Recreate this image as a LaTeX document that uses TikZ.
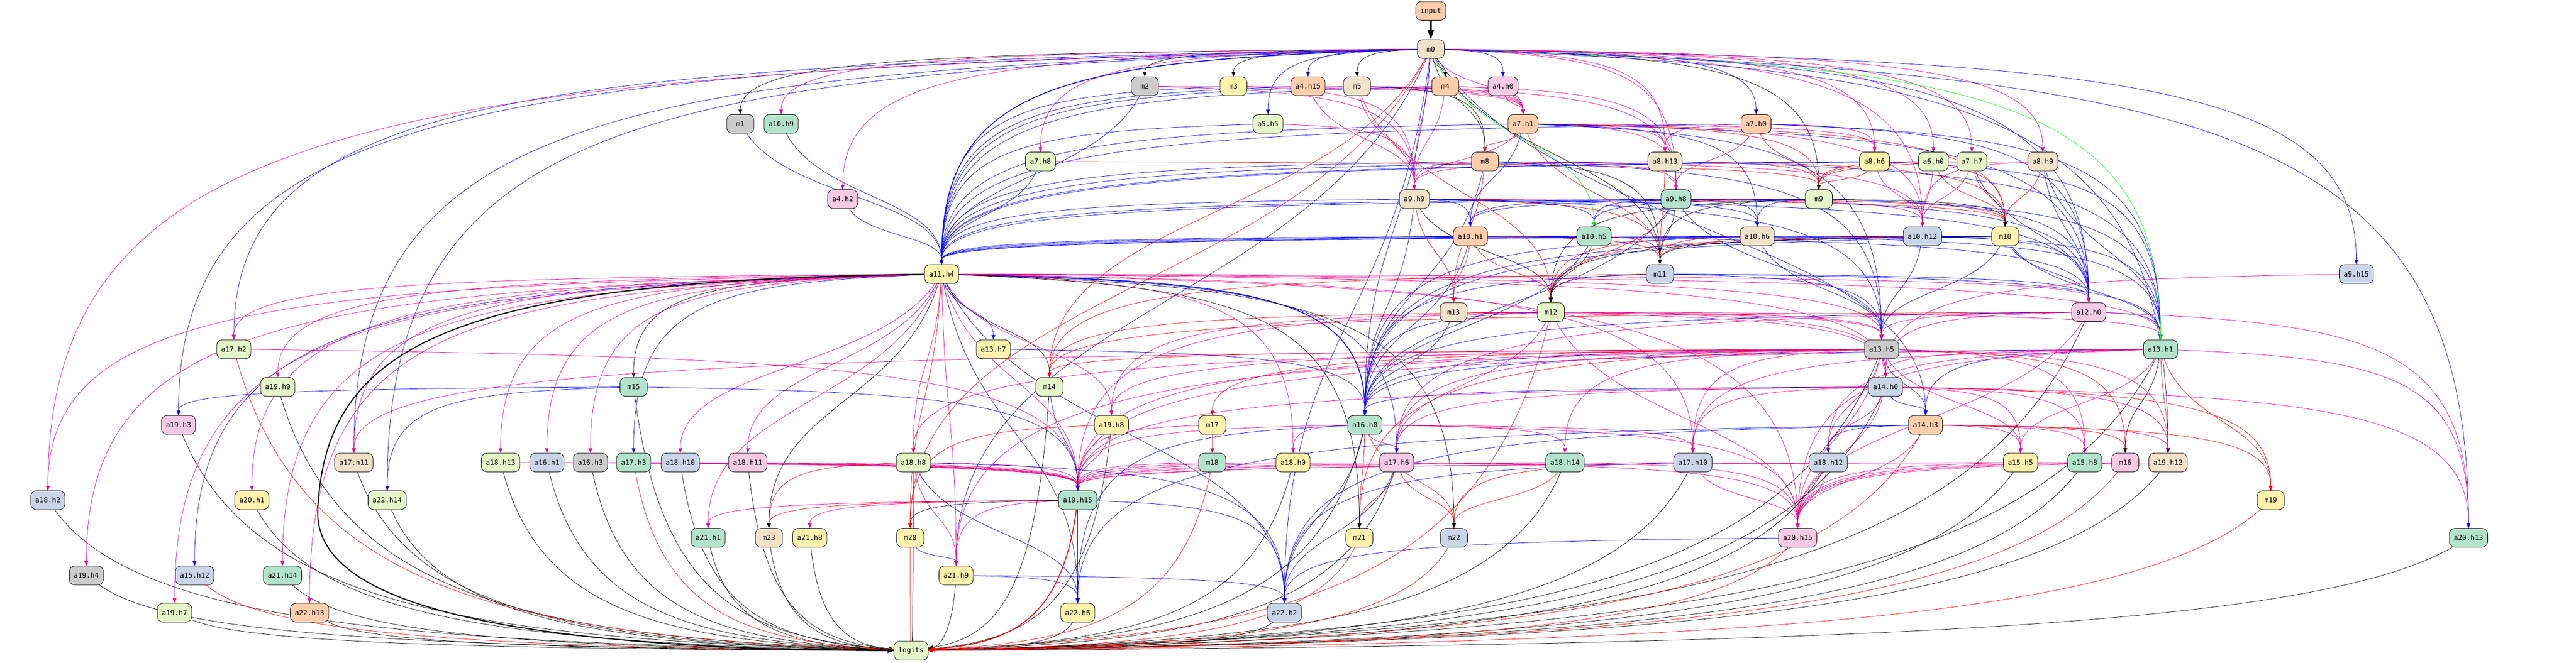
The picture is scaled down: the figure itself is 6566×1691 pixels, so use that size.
\documentclass[tikz,border=0pt]{standalone}
\usepackage{fontspec}
\newfontfamily\monofnt{DejaVu Sans Mono}
\usetikzlibrary{arrows.meta,calc}
\pgfdeclarelayer{bg}
\pgfsetlayers{bg,main}

\definecolor{cmint}{HTML}{B3E2CD}
\definecolor{cpeach}{HTML}{FDCDAC}
\definecolor{cblue}{HTML}{CBD5E8}
\definecolor{cpink}{HTML}{F4CAE4}
\definecolor{cgreen}{HTML}{E6F5C9}
\definecolor{cyell}{HTML}{FFF2AE}
\definecolor{cbeige}{HTML}{F1E2CC}
\definecolor{cgray}{HTML}{CCCCCC}

\tikzset{
  nd/.style={draw=black, line width=0.6pt, rounded corners=0.28cm,
    minimum width=1.38cm, minimum height=0.96cm, inner xsep=0.23cm, inner ysep=0pt,
    font=\monofnt\fontsize{10.1}{12}\selectfont},
  lk/.style={line width=0.55pt, -{Triangle[length=6.8pt,width=5.4pt]}},
  eblue/.style={lk, blue},
  emag/.style={lk, magenta},
  ered/.style={lk, red},
  eblk/.style={lk, black},
  egrn/.style={lk, green},
  fat/.style={line width=1.6pt, -{Triangle[length=9pt,width=7pt]}},
}

% one connector: wide ones run out sideways first, steep ones leave downwards
\newcommand\lnk[3]{\draw[#1] let \p1=(#2), \p2=(#3), \n1={\x2-\x1}, \n2={max(\y1-\y2,20pt)},
  \n3={ifthenelse(abs(\n1)>1.5*\n2, 0.75*\n1, 0.25*\n1)},
  \n4={ifthenelse(abs(\n1)>1.5*\n2, 0.05*\n2, 0.5*\n2)},
  \n5={ifthenelse(abs(\n1)>1.5*\n2, 0.85*\n2, 0.5*\n2)} in
  (#2) .. controls +(\n3,-\n4) and +(0pt,\n5) .. (#3);}
% connector into logits, comes in from the side along the bottom
\newcommand\lnkh[3]{\draw[#1] let \p1=(#2), \p2=(#3), \n1={\x2-\x1}, \n2={max(\y1-\y2,20pt)} in
  (#2) .. controls +(0.1*\n1,-0.8*\n2) and +(-0.6*\n1,0.05*\n2) .. (#3);}
% all connectors of one colour into one node
\newcommand\into[3]{\foreach \s in {#3}{\lnk{#1}{\s}{#2}}}

\begin{document}
\begin{tikzpicture}[x=0.02cm, y=0.02cm]
\useasboundingbox (0,0) rectangle (6566,-1691);

% rank 0 - 1
\node[nd, fill=cpeach] (input) at (3647,-28) {input};
\node[nd, fill=cbeige] (m0) at (3647,-125) {m0};

% rank 2
\node[nd, fill=cgray]  (m2)   at (2918,-220) {m2};
\node[nd, fill=cyell]  (m3)   at (3144,-220) {m3};
\node[nd, fill=cpeach] (a4h15) at (3334,-220) {a4.h15};
\node[nd, fill=cbeige] (m5)   at (3459,-220) {m5};
\node[nd, fill=cpeach] (m4)   at (3684,-220) {m4};
\node[nd, fill=cpink]  (a4h0) at (3831,-220) {a4.h0};

% rank 3
\node[nd, fill=cgray]  (m1)    at (1887,-316) {m1};
\node[nd, fill=cmint]  (a10h9) at (1991,-316) {a10.h9};
\node[nd, fill=cgreen] (a5h5)  at (3232,-316) {a5.h5};
\node[nd, fill=cpeach] (a7h1)  at (3882,-316) {a7.h1};
\node[nd, fill=cpeach] (a7h0)  at (4476,-316) {a7.h0};

% rank 4
\node[nd, fill=cgreen] (a7h8)  at (2652,-412) {a7.h8};
\node[nd, fill=cpeach] (m8)    at (3785,-412) {m8};
\node[nd, fill=cbeige] (a8h13) at (4244,-412) {a8.h13};
\node[nd, fill=cyell]  (a8h6)  at (4778,-412) {a8.h6};
\node[nd, fill=cgreen] (a6h0)  at (4928,-412) {a6.h0};
\node[nd, fill=cgreen] (a7h7)  at (5026,-412) {a7.h7};
\node[nd, fill=cbeige] (a8h9)  at (5207,-412) {a8.h9};

% rank 5
\node[nd, fill=cpink]  (a4h2) at (2148,-508) {a4.h2};
\node[nd, fill=cbeige] (a9h9) at (3605,-508) {a9.h9};
\node[nd, fill=cmint]  (a9h8) at (4272,-508) {a9.h8};
\node[nd, fill=cgreen] (m9)   at (4636,-508) {m9};

% rank 6
\node[nd, fill=cpeach] (a10h1)  at (3748,-603) {a10.h1};
\node[nd, fill=cmint]  (a10h5)  at (4063,-603) {a10.h5};
\node[nd, fill=cbeige] (a10h6)  at (4479,-603) {a10.h6};
\node[nd, fill=cblue]  (a10h12) at (4900,-603) {a10.h12};
\node[nd, fill=cyell]  (m10)    at (5111,-603) {m10};

% rank 7 - 8
\node[nd, fill=cyell]  (a11h4) at (2400,-699) {a11.h4};
\node[nd, fill=cblue]  (m11)   at (4231,-699) {m11};
\node[nd, fill=cblue]  (a9h15) at (6006,-699) {a9.h15};
\node[nd, fill=cbeige] (m13)   at (3705,-796) {m13};
\node[nd, fill=cgreen] (m12)   at (3953,-796) {m12};
\node[nd, fill=cpink]  (a12h0) at (5324,-796) {a12.h0};

% rank 9 - 11
\node[nd, fill=cgreen] (a17h2) at (596,-891)  {a17.h2};
\node[nd, fill=cyell]  (a13h7) at (2532,-891) {a13.h7};
\node[nd, fill=cgray]  (a13h5) at (4796,-891) {a13.h5};
\node[nd, fill=cmint]  (a13h1) at (5507,-891) {a13.h1};
\node[nd, fill=cgreen] (a19h9) at (708,-987)  {a19.h9};
\node[nd, fill=cmint]  (m15)   at (1615,-987) {m15};
\node[nd, fill=cgreen] (m14)   at (2675,-987) {m14};
\node[nd, fill=cblue]  (a14h0) at (4806,-987) {a14.h0};
\node[nd, fill=cpink]  (a19h3) at (455,-1084)  {a19.h3};
\node[nd, fill=cyell]  (a19h8) at (2833,-1084) {a19.h8};
\node[nd, fill=cyell]  (m17)   at (3090,-1084) {m17};
\node[nd, fill=cmint]  (a16h0) at (3479,-1084) {a16.h0};
\node[nd, fill=cpeach] (a14h3) at (4908,-1084) {a14.h3};

% rank 12
\node[nd, fill=cbeige] (a17h11) at (902,-1180)  {a17.h11};
\node[nd, fill=cgreen] (a18h13) at (1276,-1180) {a18.h13};
\node[nd, fill=cblue]  (a16h1)  at (1394,-1180) {a16.h1};
\node[nd, fill=cgray]  (a16h3)  at (1505,-1180) {a16.h3};
\node[nd, fill=cmint]  (a17h3)  at (1615,-1180) {a17.h3};
\node[nd, fill=cblue]  (a18h10) at (1734,-1180) {a18.h10};
\node[nd, fill=cpink]  (a18h11) at (1906,-1180) {a18.h11};
\node[nd, fill=cgreen] (a18h8)  at (2328,-1180) {a18.h8};
\node[nd, fill=cmint]  (m18)    at (3090,-1180) {m18};
\node[nd, fill=cyell]  (a18h0)  at (3296,-1180) {a18.h0};
\node[nd, fill=cpink]  (a17h6)  at (3560,-1180) {a17.h6};
\node[nd, fill=cmint]  (a18h14) at (3989,-1180) {a18.h14};
\node[nd, fill=cblue]  (a17h10) at (4315,-1180) {a17.h10};
\node[nd, fill=cblue]  (a18h12) at (4660,-1180) {a18.h12};
\node[nd, fill=cyell]  (a15h5)  at (5150,-1180) {a15.h5};
\node[nd, fill=cmint]  (a15h8)  at (5314,-1180) {a15.h8};
\node[nd, fill=cpink]  (m16)    at (5417,-1180) {m16};
\node[nd, fill=cbeige] (a19h12) at (5526,-1180) {a19.h12};

% rank 13 - 14
\node[nd, fill=cblue]  (a18h2)  at (122,-1276)  {a18.h2};
\node[nd, fill=cyell]  (a20h1)  at (642,-1276)  {a20.h1};
\node[nd, fill=cgreen] (a22h14) at (987,-1276)  {a22.h14};
\node[nd, fill=cmint]  (a19h15) at (2747,-1276) {a19.h15};
\node[nd, fill=cyell]  (m19)    at (5788,-1276) {m19};
\node[nd, fill=cmint]  (a21h1)  at (1805,-1372) {a21.h1};
\node[nd, fill=cbeige] (m23)    at (1960,-1372) {m23};
\node[nd, fill=cyell]  (a21h8)  at (2064,-1372) {a21.h8};
\node[nd, fill=cyell]  (m20)    at (2320,-1372) {m20};
\node[nd, fill=cyell]  (m21)    at (3465,-1372) {m21};
\node[nd, fill=cblue]  (m22)    at (3706,-1372) {m22};
\node[nd, fill=cpink]  (a20h15) at (4582,-1372) {a20.h15};
\node[nd, fill=cmint]  (a20h13) at (6292,-1372) {a20.h13};

% rank 15 - 17
\node[nd, fill=cgray]  (a19h4)  at (220,-1468)  {a19.h4};
\node[nd, fill=cblue]  (a15h12) at (496,-1468)  {a15.h12};
\node[nd, fill=cmint]  (a21h14) at (720,-1468)  {a21.h14};
\node[nd, fill=cyell]  (a21h9)  at (2437,-1468) {a21.h9};
\node[nd, fill=cgreen] (a19h7)  at (445,-1563)  {a19.h7};
\node[nd, fill=cpeach] (a22h13) at (789,-1563)  {a22.h13};
\node[nd, fill=cyell]  (a22h6)  at (2747,-1563) {a22.h6};
\node[nd, fill=cblue]  (a22h2)  at (3274,-1563) {a22.h2};
\node[nd, fill=cgreen] (logits) at (2322,-1660) {logits};

\begin{pgfonlayer}{bg}
\lnk{eblk,line width=2.8pt,-{Triangle[length=14pt,width=9pt]}}{input}{m0}

\into{eblk}{m2}{m0}
\into{eblk}{m3}{m0}
\into{eblk}{m5}{m0}
\into{eblk}{m4}{m0}
\into{eblk}{m1}{m0}
\into{eblue}{a4h15}{m0}
\into{eblue}{a4h0}{m0}
\into{eblue}{a5h5}{m0}
\into{eblue}{a7h0}{m0}
\into{eblue}{a9h15}{m0}
\into{emag}{a10h9}{m0}
\into{emag}{a7h8}{m0}
\into{emag}{a4h2}{m0}
\into{emag}{a6h0}{m0}
\into{emag}{a7h7}{m0}
\into{emag}{a8h9}{m0}
\into{emag}{a7h1}{m0,a4h0,m5,m4,a4h15,m3,m2}
\into{emag}{a8h13}{m0,a7h1,a7h0}
\into{emag}{a8h6}{m0,a7h1,a7h0}
\into{eblk}{m8}{m0,m5}
\into{ered}{m8}{a7h1}
\into{emag}{a9h9}{m4,m8,a4h15,m5,a5h5,m3,m2,a7h1,a8h13,m0}
\into{emag}{a9h8}{a8h13,a7h1,m8,a7h0,m5,m4,m0}
\into{ered}{m9}{a8h13,a8h6,a7h0,a7h1,a8h9,a7h7,a6h0,a7h8}
\into{eblk}{m9}{m0}
\into{eblue}{a10h1}{a9h9,a7h1,a9h8,m9}
\into{eblue}{a10h5}{a9h9,a9h8,m9}
\into{egrn}{a10h5}{m0}
\into{eblue}{a10h6}{a9h9,a9h8,m9,a7h1}
\into{emag}{a10h12}{a8h6,a7h7,a6h0,a8h9,a9h8,m8,a7h1,m0}
\into{ered}{m10}{a8h9,a7h7,a6h0,a8h6,a7h1,a8h13,a9h9,a9h8}
\into{eblk}{m10}{m9}
\into{eblue}{a11h4}{m1,a10h9,a4h2,a7h8,m2,m3,m5,a5h5,a4h15,m4,m8,a9h9,a7h1,a10h1,a10h5,a9h8,a10h6,m9,a7h0,a8h13,a8h6,a10h12,m10,a6h0}
\lnk{eblue,line width=1.2pt}{m0}{a11h4}
\into{ered}{m11}{a10h1,a10h5,a10h6,a9h9,a7h1,a10h12,a8h13}
\into{eblk}{m11}{m9,a9h8,m8,m10,m0}
\into{ered}{m13}{a9h9,a10h1,m8}
\into{ered}{m12}{a10h6,a10h1,a10h12,m5,a9h8}
\into{eblk}{m12}{a10h5,m11,a9h9,m9,m10}
\into{eblue}{a12h0}{m10,a10h12,a8h9,a7h0,m11,a9h8,m9,a9h9,a10h1,a7h1,a7h7,m0}
\into{emag}{a12h0}{a11h4}
\into{eblue}{a17h2}{m0}
\into{emag}{a17h2}{a11h4}
\into{eblue}{a13h7}{a11h4}
\into{eblue}{a13h5}{m11,a10h12,m10,a9h8,a9h9,a7h1,m8,a10h6}
\into{emag}{a13h5}{m12,m13,a12h0,a11h4}
\into{eblue}{a13h1}{a12h0,m11,a10h6,m9,a8h9,m10,a10h12,a7h0,a8h13,a8h6}
\into{emag}{a13h1}{m12,a11h4}
\into{egrn}{a13h1}{m0}
\into{emag}{a19h9}{a11h4}
\into{eblk}{m15}{a11h4}
\into{eblk}{m14}{a11h4}
\into{ered}{m14}{m0,m12,a12h0,a13h5,m11}
\into{emag}{a14h0}{a13h5,a11h4,m12,a13h1,m13,a12h0,a9h15}
\into{eblue}{a19h3}{m0,m15}
\into{emag}{a19h8}{a11h4,m12,a13h5}
\into{ered}{m17}{a13h5}
\into{eblue}{a16h0}{m0,m13,m12,a10h1,a9h9,m11,a10h5,a12h0,a13h5,a13h1,a14h0,m8,a9h8,a10h6,a10h12,m10,a13h7}
\lnk{eblue,line width=1.2pt}{a11h4}{a16h0}
\into{eblue}{a14h3}{a13h1,a13h5,a14h0,m0}
\into{eblue}{a17h11}{m0}
\into{emag}{a17h11}{a11h4,a13h5}
\into{emag}{a18h13}{a11h4}
\into{emag}{a16h1}{a11h4}
\into{emag}{a16h3}{a11h4}
\into{eblue}{a17h3}{a11h4}
\into{emag}{a18h10}{a11h4}
\into{emag}{a18h11}{a11h4}
\into{emag}{a18h8}{a11h4,a13h5}
\into{ered}{m18}{m17}
\into{emag}{a18h0}{a16h0,a11h4}
\into{emag}{a17h6}{a16h0,m12,a13h5,a14h0,a12h0}
\into{eblue}{a17h6}{a11h4}
\into{emag}{a18h14}{a16h0,a13h5}
\into{emag}{a17h10}{a16h0,a13h5,a14h0,a13h1,a11h4}
\into{emag}{a18h12}{a14h0,a13h5,a13h1}
\into{eblue}{a18h12}{a14h3}
\into{emag}{a15h5}{a14h3,a13h5,a14h0,a13h1}
\into{emag}{a15h8}{a14h3,a13h5,a14h0}
\into{ered}{m16}{a14h3,a13h5}
\into{eblk}{m16}{a13h1}
\into{emag}{a19h12}{a14h3,a14h0,a13h5}
\into{ered}{a19h12}{a13h1}
\into{eblue}{a19h12}{m0}
\into{emag}{a18h2}{a11h4,m0}
\into{emag}{a20h1}{a11h4}
\into{eblue}{a22h14}{m0,m15}
\into{emag}{a19h15}{a11h4,a18h8,a16h0,a17h6,a13h5,m12,a18h11,a18h10,a16h1,a16h3,a17h3,a18h13,a19h8,m17,m18,a14h0,a13h1,a17h10,a18h0,a18h14,a15h5,a15h8,a17h2}
\into{eblue}{a19h15}{m15,m14}
\into{ered}{m19}{a13h1,a14h3,a14h0}
\into{emag}{a21h1}{a11h4,a19h15}
\into{ered}{m23}{a19h15,a18h8}
\into{eblk}{m23}{a11h4}
\into{emag}{a21h8}{a19h15}
\into{eblk}{m20}{a19h15}
\into{ered}{m20}{a11h4,a19h8,m0}
\into{ered}{m21}{a17h6,a16h0,a13h5}
\into{eblk}{m21}{a11h4}
\into{ered}{m22}{a17h6,a17h10,a16h0,a18h14}
\into{eblk}{m22}{a11h4}
\into{emag}{a20h15}{a16h0,a17h6,a18h14,a17h10,a18h12,a13h5,a14h0,a14h3,a15h5,a15h8,a19h12,m16,a13h1,a11h4,a12h0,m12}
\into{emag}{a20h13}{a13h1,a14h0,a12h0}
\into{eblue}{a20h13}{m0}
\into{emag}{a19h4}{a11h4}
\into{eblue}{a15h12}{a11h4}
\into{emag}{a21h14}{a11h4}
\into{eblue}{a21h9}{m20,m0}
\into{emag}{a21h9}{a18h8,a19h15,a11h4,a13h5}
\into{emag}{a19h7}{a11h4}
\into{emag}{a22h13}{a11h4}
\into{eblue}{a22h6}{a19h15,a21h9,a18h8,a11h4,a16h0,a14h3}
\into{eblue}{a22h2}{a16h0,a17h6,a21h9,a19h15,a17h10,a20h15,a14h3,m0,a11h4,a18h8}
\foreach \s in {a21h9,a22h6,a22h2,a18h2,a19h4,a19h7,a21h14,a22h13,a20h1,a19h3,a19h9,a17h11,a18h13,a16h1,a16h3,a18h10,a18h11,a18h8,m23,a21h8,a21h1,m14,a22h14,m15,a17h6,a18h14,a17h10,a18h12,a15h5,a15h8,a19h12,a20h13,a13h5,a13h1,a14h0,a12h0,a16h0,a19h8,a18h0}
  {\lnkh{eblk}{\s}{logits}}
\foreach \s in {m20,a15h12,a17h2,a17h3,m18,m21,m22,a20h15,m16,m19,a14h3,m12}
  {\lnkh{ered}{\s}{logits}}
% the heavy one swings out to the left
\draw[eblk,fat] (a11h4) .. controls (1150,-715) and (830,-880) .. (810,-1300)
  .. controls (800,-1520) and (1200,-1655) .. (logits);
\lnkh{ered,fat,line width=1.3pt}{a19h15}{logits}
\end{pgfonlayer}
\end{tikzpicture}
\end{document}
